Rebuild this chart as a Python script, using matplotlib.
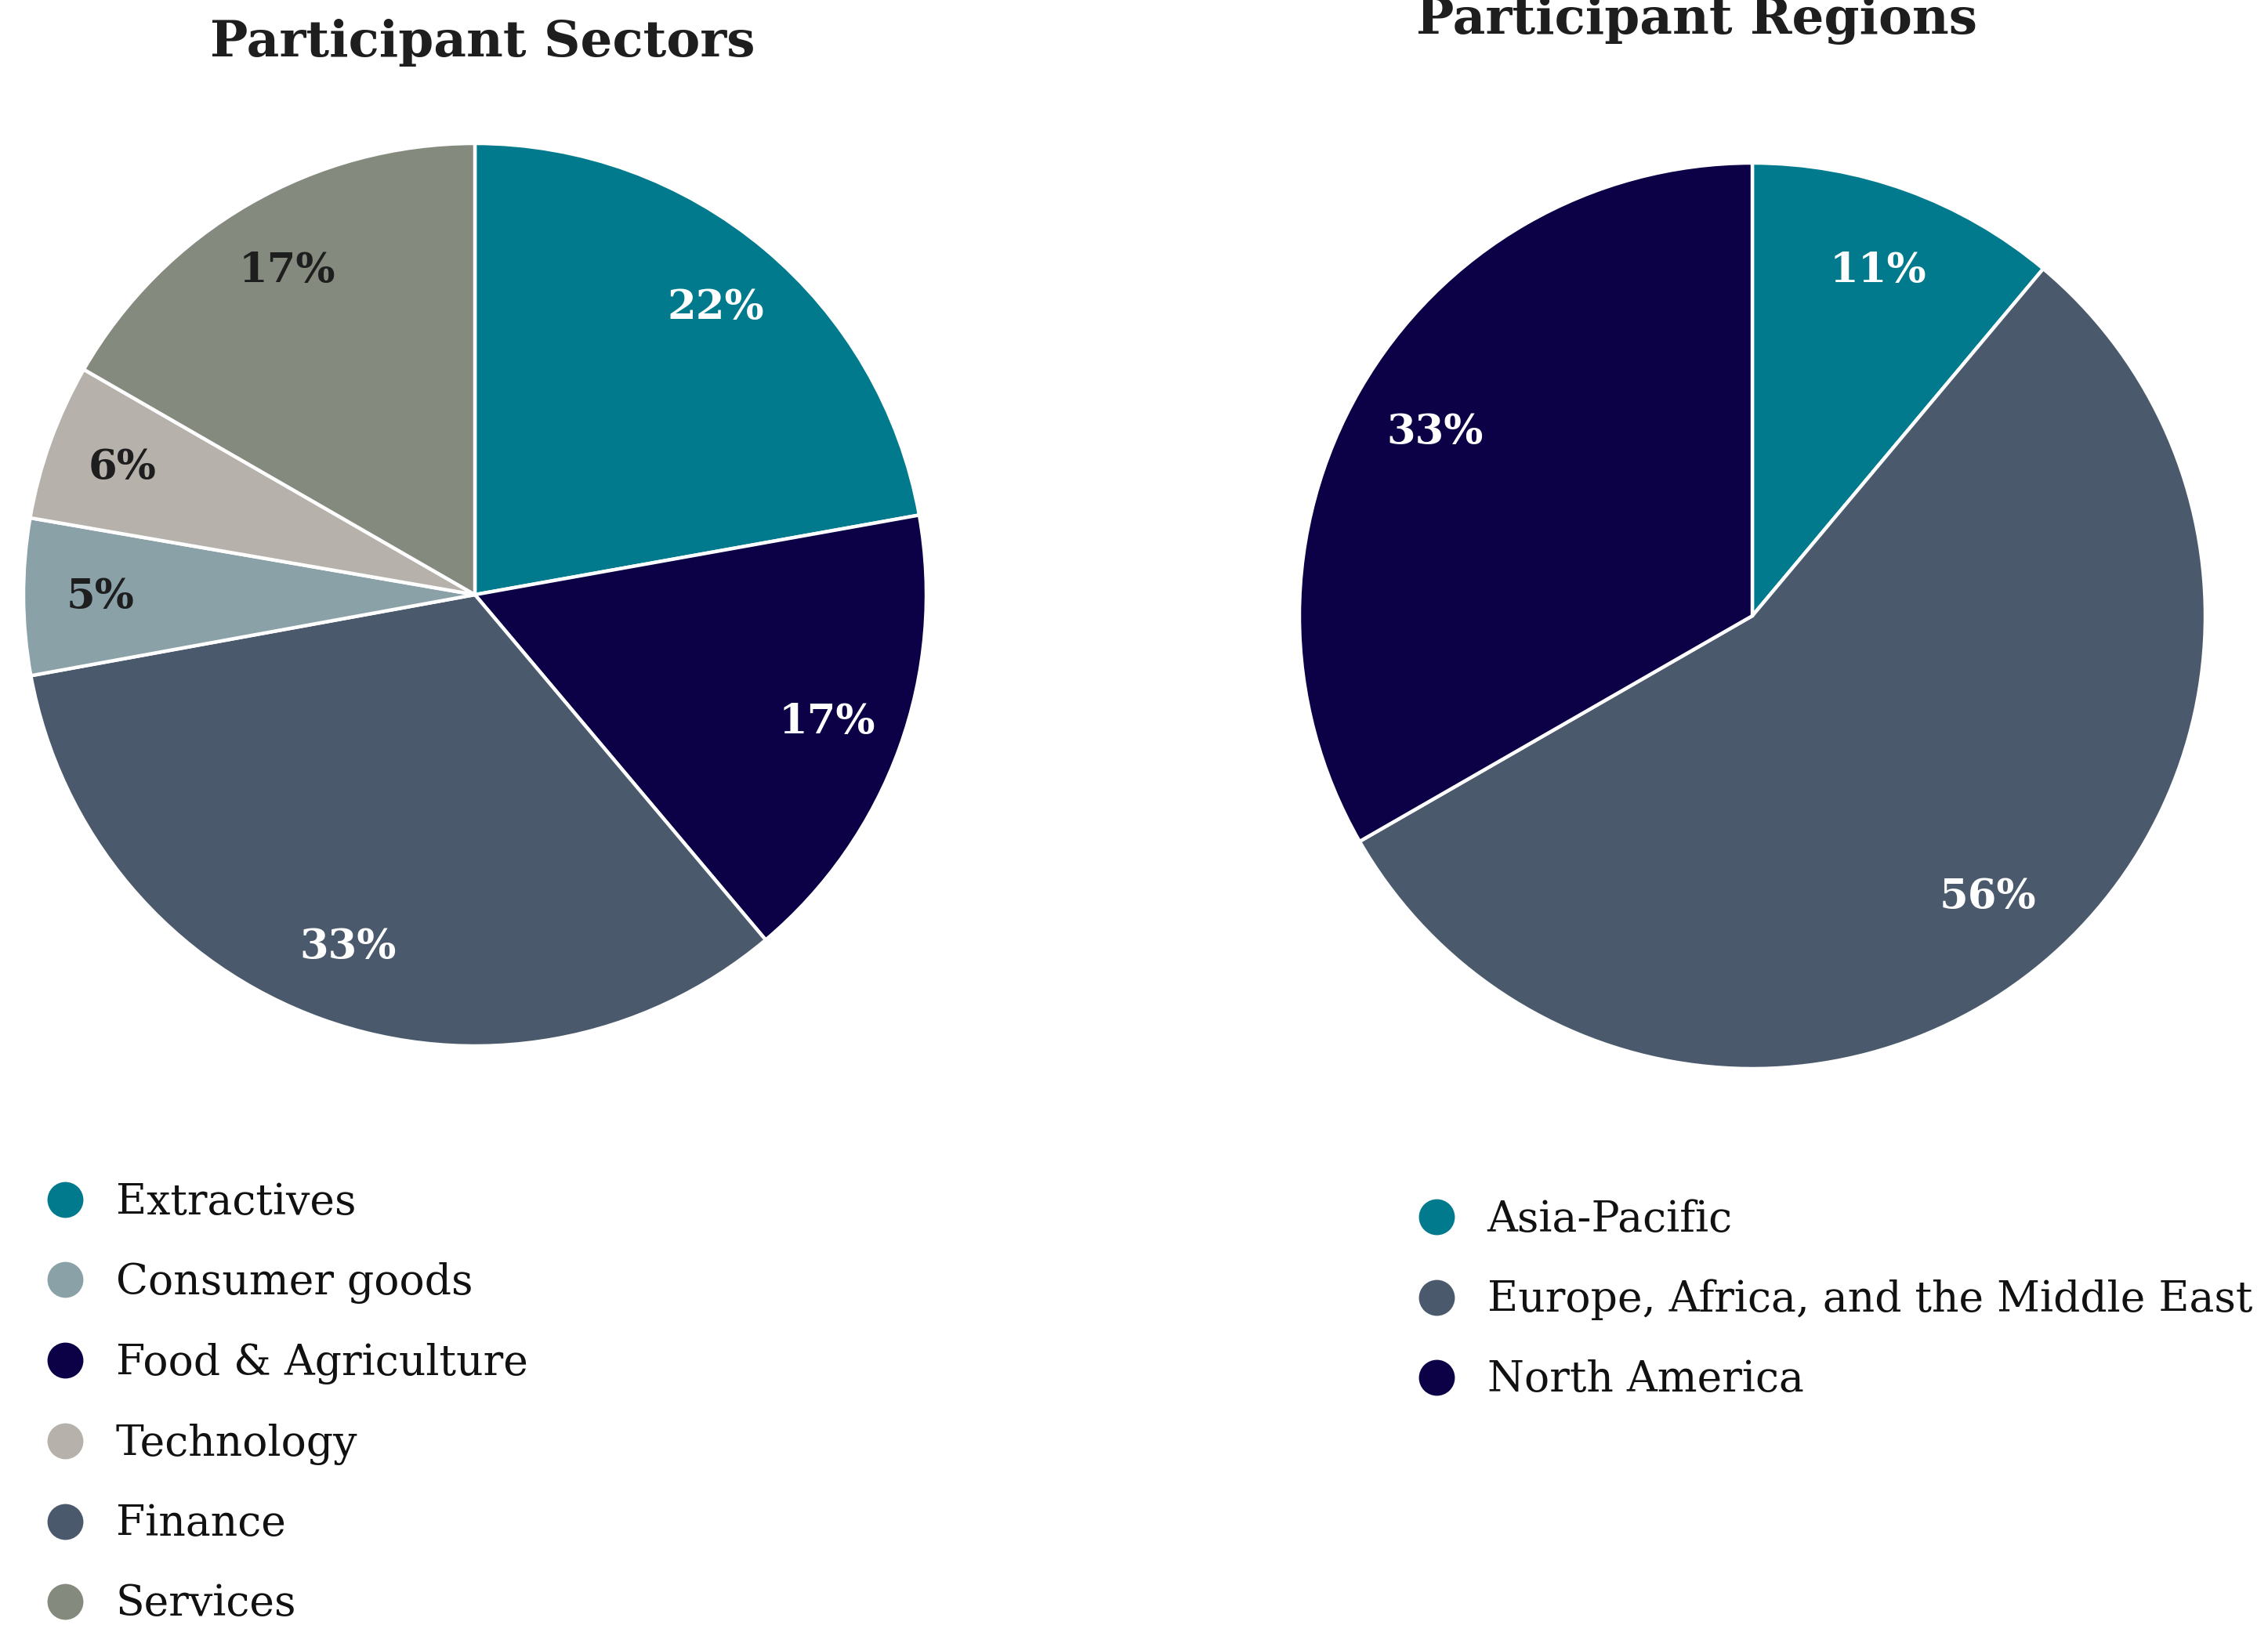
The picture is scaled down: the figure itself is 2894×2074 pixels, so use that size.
import matplotlib
matplotlib.use("Agg")
import numpy as np
import matplotlib.pyplot as plt
from matplotlib.lines import Line2D

plt.rcParams['font.family'] = ['DejaVu Serif']

# sectors, in the order the slices run clockwise from 12 o'clock
sector_names = ["Extractives", "Food & Agriculture", "Finance",
                "Consumer goods", "Technology", "Services"]
sector_shares = [22.2, 16.7, 33.3, 5.6, 5.6, 16.7]
sector_labels = ["22%", "17%", "33%", "5%", "6%", "17%"]
sector_colors = ["#007a8c", "#0c0046", "#4a5a6c", "#8aa1a8", "#b6b2ab", "#858a7e"]
sector_text = ["white", "white", "white", "#1e1e1e", "#1e1e1e", "#1e1e1e"]
sector_legend = ["Extractives", "Consumer goods", "Food & Agriculture",
                 "Technology", "Finance", "Services"]

region_names = ["Asia-Pacific", "Europe, Africa, and the Middle East", "North America"]
region_shares = [11.1, 55.6, 33.3]
region_labels = ["11%", "56%", "33%"]
region_colors = ["#007a8c", "#4a5a6c", "#0c0046"]
region_text = ["white", "white", "white"]

W, H, DPI = 2894, 2074, 200


def px_axes(fig, cx, cy, r):
    # axes box from pixel centre / radius
    return fig.add_axes([(cx - r) / W, 1 - (cy + r) / H, 2 * r / W, 2 * r / H])


def draw_pie(ax, shares, labels, colors, text_colors, pctdist):
    wedges, _ = ax.pie(shares, colors=colors, startangle=90, counterclock=False,
                       wedgeprops=dict(edgecolor="white", linewidth=1.6))
    for w, lab, tc in zip(wedges, labels, text_colors):
        ang = np.deg2rad((w.theta1 + w.theta2) / 2)
        ax.text(pctdist * np.cos(ang), pctdist * np.sin(ang), lab, color=tc,
                ha="center", va="center", fontsize=19, fontweight="bold")
    ax.set_xlim(-1, 1)
    ax.set_ylim(-1, 1)
    ax.set_aspect("equal")
    ax.axis("off")


def draw_legend(fig, names, name_order, colors, x, y):
    lut = dict(zip(names, colors))
    handles = [Line2D([], [], marker="o", linestyle="none", markersize=15.5,
                      markerfacecolor=lut[n], markeredgecolor=lut[n]) for n in name_order]
    fig.legend(handles, name_order, loc="upper left", bbox_to_anchor=(x / W, 1 - y / H),
               frameon=False, fontsize=19.3, labelspacing=0.93, handletextpad=0.71,
               handlelength=1.0, borderpad=0, borderaxespad=0, labelcolor="#111111")


fig = plt.figure(figsize=(W / DPI, H / DPI), dpi=DPI)

ax1 = px_axes(fig, 606, 759, 576)
draw_pie(ax1, sector_shares, sector_labels, sector_colors, sector_text, 0.83)
ax2 = px_axes(fig, 2236, 786, 578)
draw_pie(ax2, region_shares, region_labels, region_colors, region_text, 0.81)

fig.text(616 / W, 1 - 72 / H, "Participant Sectors", ha="center", va="baseline",
         fontsize=23.2, fontweight="bold", color="#1e1e1e")
fig.text(2165 / W, 1 - 43 / H, "Participant Regions", ha="center", va="baseline",
         fontsize=23.2, fontweight="bold", color="#1e1e1e")

draw_legend(fig, sector_names, sector_legend, sector_colors, 56, 1509)
draw_legend(fig, region_names, region_names, region_colors, 1806, 1531)

fig.savefig("out.png", dpi=DPI, facecolor="white")
